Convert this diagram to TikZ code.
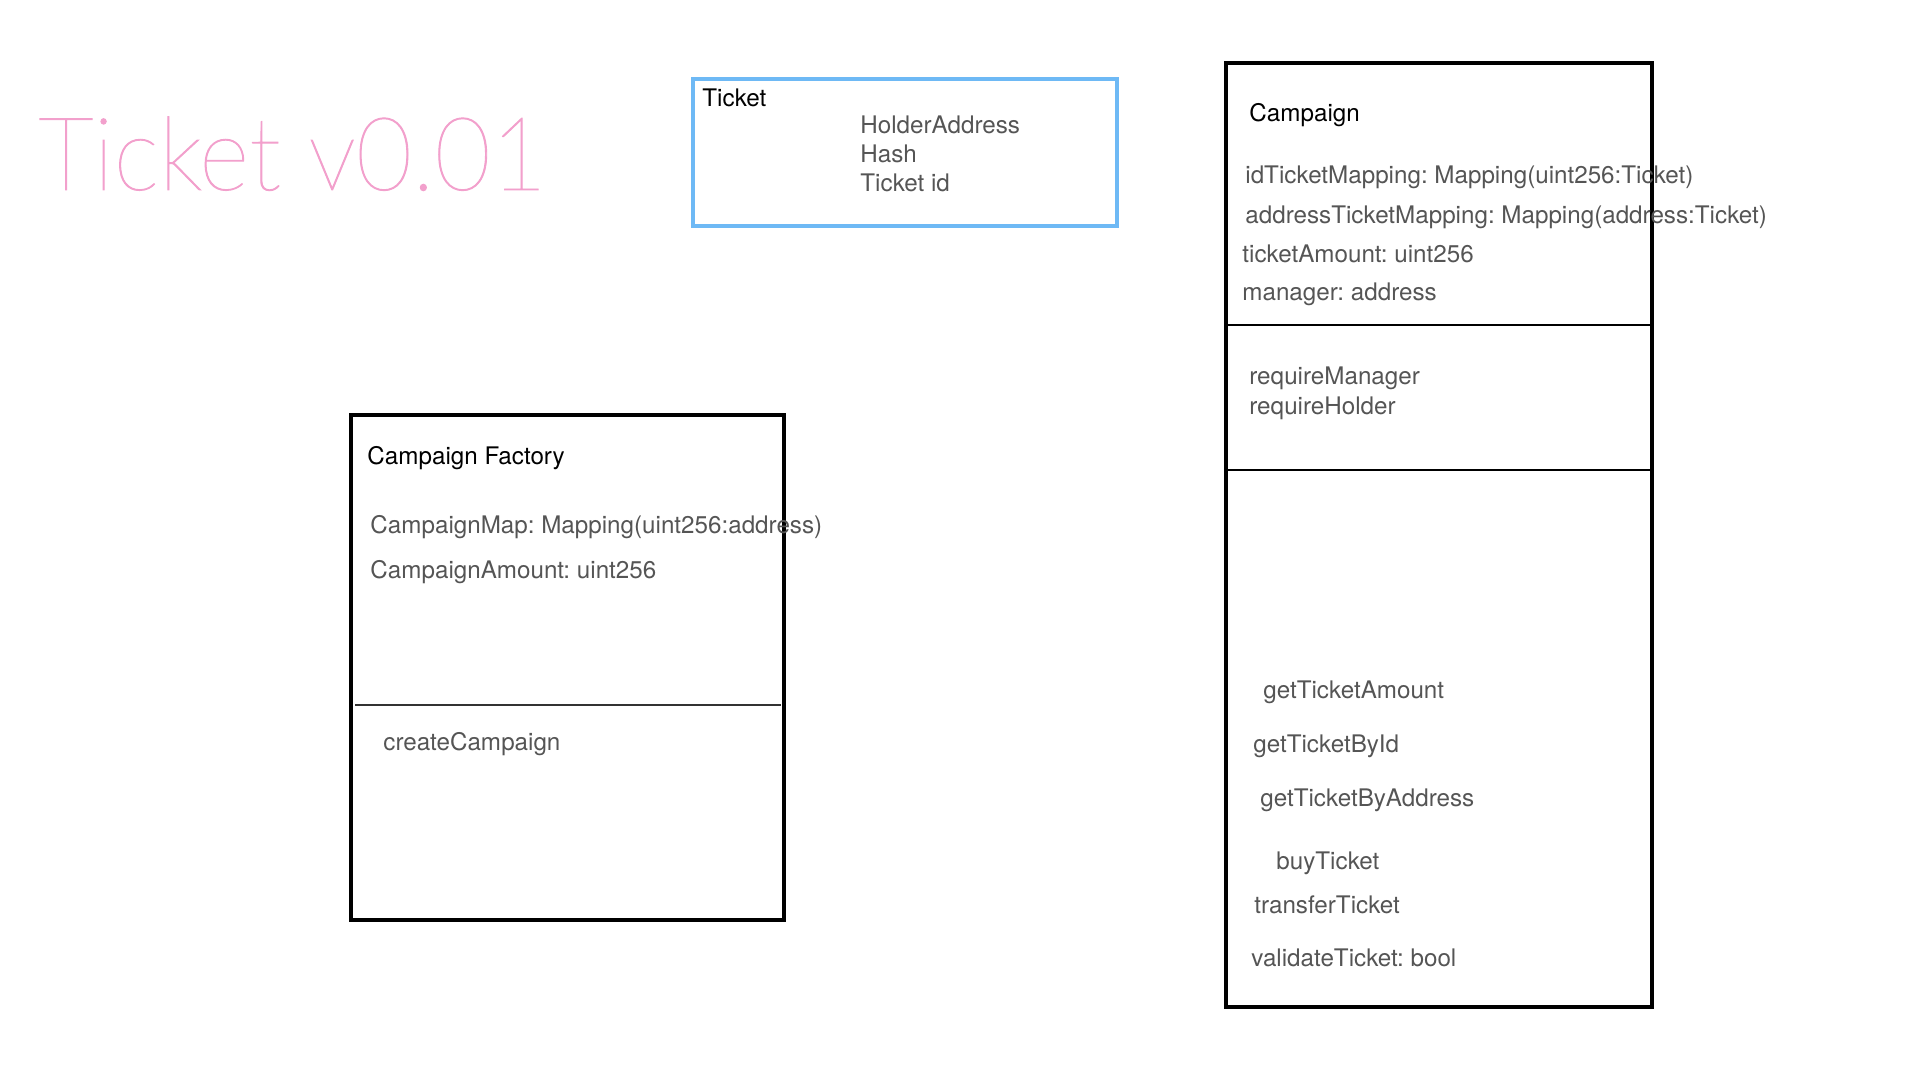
\documentclass[tikz,border=0pt]{standalone}
\usepackage{fontspec}
\setmainfont{TeX Gyre Heros}
\IfFontExistsTF{Lato Thin}{\newfontfamily\titlefont{Lato Thin}}{%
  \IfFontExistsTF{Lato Hairline}{\newfontfamily\titlefont{Lato Hairline}}{\newfontfamily\titlefont{Liberation Sans}}}
\frenchspacing
\definecolor{titlepink}{RGB}{242,160,204}
\definecolor{ticketblue}{RGB}{110,185,245}
\definecolor{membergray}{RGB}{85,85,85}
% slightly heavier strokes for the thin title face
\newcommand{\heavytitle}[1]{\special{pdf:literal direct 2 Tr 0.45 w}#1\special{pdf:literal direct 0 Tr}}
\tikzset{
  member/.style={anchor=base west, inner sep=0pt, text=membergray, font=\fontsize{12.1}{14}\selectfont},
  classname/.style={member, text=black},
  classbox/.style={line width=2pt},
  divider/.style={line width=1pt}
}
\begin{document}
\begin{tikzpicture}[x=0.5pt,y=-0.5pt]
    \useasboundingbox (0,0) rectangle (1920,1080);
    \node[anchor=base west, inner sep=0pt, text=titlepink, xscale=0.95, font=\titlefont\fontsize{51}{60}\selectfont] (title) at (38,190) {\heavytitle{Ticket v0.01}};
    % ticket
    \draw[classbox, draw=ticketblue] (693,79) rectangle (1117,226);
    \node[classname] (ticket) at (702,107) {Ticket};
    \node[member] (holder) at (860,134) {HolderAddress};
    \node[member] (hash) at (860,163) {Hash};
    \node[member] (ticketid) at (860,192) {Ticket id};
    % campaign factory
    \draw[classbox] (351,415) rectangle (784,920);
    \draw[divider, draw=black!80] (355,705) -- (781,705);
    \node[classname] (factory) at (367,464) {Campaign Factory};
    \node[member] (campmap) at (370,533) {CampaignMap: Mapping(uint256:address)};
    \node[member] (campamount) at (370,578) {CampaignAmount: uint256};
    \node[member] (create) at (383,750) {createCampaign};
    % campaign
    \draw[classbox] (1226,63) rectangle (1652,1007);
    \draw[divider] (1226,325) -- (1652,325);
    \draw[divider] (1226,470) -- (1652,470);
    \node[classname] (campaign) at (1249,122) {Campaign};
    \node[member] (idmap) at (1245,184) {idTicketMapping: Mapping(uint256:Ticket)};
    \node[member] (addrmap) at (1245,224) {addressTicketMapping: Mapping(address:Ticket)};
    \node[member] (amount) at (1242,263) {ticketAmount: uint256};
    \node[member] (manager) at (1242,301) {manager: address};
    \node[member] (reqmanager) at (1249,384) {requireManager};
    \node[member] (reqholder) at (1249,414) {requireHolder};
    \node[member] (getamount) at (1263,698) {getTicketAmount};
    \node[member] (getbyid) at (1253,752) {getTicketById};
    \node[member] (getbyaddr) at (1260,806) {getTicketByAddress};
    \node[member] (buy) at (1276,869) {buyTicket};
    \node[member] (transfer) at (1254,913) {transferTicket};
    \node[member] (validate) at (1251,966) {validateTicket: bool};
\end{tikzpicture}
\end{document}
